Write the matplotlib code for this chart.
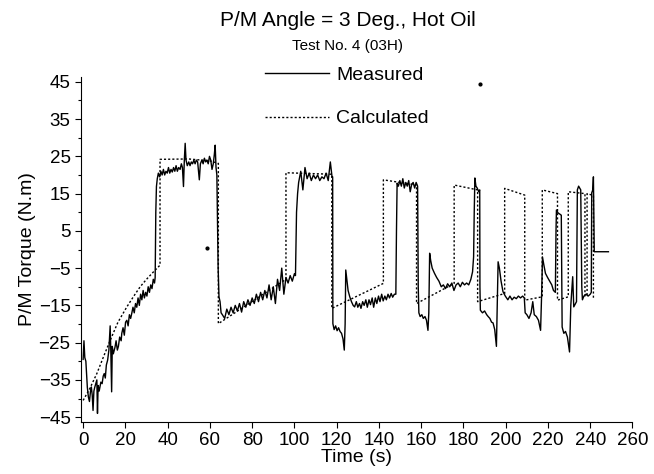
import numpy as np
import matplotlib
matplotlib.use('Agg')
import matplotlib.pyplot as plt
from matplotlib.ticker import MultipleLocator

plt.rcParams['font.family'] = ['Liberation Sans', 'DejaVu Sans']

# measured torque trace (time s, torque N.m)
meas_t = [0.0, 0.4, 0.8, 1.3, 2.0, 2.5, 3.0, 3.5, 3.9, 4.3, 4.7, 5.1, 5.5, 6.0, 6.5, 6.8, 7.1, 7.6,
          8.4, 9.0, 9.5, 10.0, 10.5, 11.0, 11.6, 12.2, 12.8, 13.1, 13.5, 13.8, 14.3, 15.1, 15.6,
          16.2, 16.7, 17.3, 18.0, 18.3, 18.9, 19.5, 20.1, 20.7, 21.3, 21.9, 22.5, 23.0, 23.6,
          24.2, 24.8, 25.4, 26.0, 26.6, 27.2, 27.8, 28.4, 29.0, 29.6, 30.2, 30.8, 31.4, 32.0,
          32.6, 33.2, 33.8, 34.1, 34.4, 34.7, 35.1, 35.6, 36.2, 36.8, 37.4, 38.0, 38.6, 39.2,
          39.8, 40.4, 41.0, 41.6, 42.2, 42.8, 43.4, 44.0, 44.6, 45.2, 45.9, 46.5, 47.0, 47.5,
          47.9, 48.3, 48.7, 49.3, 50.0, 50.6, 51.2, 51.8, 52.4, 53.0, 53.6, 54.2, 55.0, 55.5,
          56.2, 56.8, 57.4, 58.0, 58.6, 59.2, 59.8, 60.4, 61.0, 61.6, 62.1, 62.5, 62.9, 63.3,
          63.6, 63.9, 64.3, 64.8, 65.3, 65.9, 67, 68, 69, 70, 71, 72, 73, 74, 75, 76, 77, 78,
          79, 80, 81, 82, 83, 84, 85, 86, 87, 88, 89, 90, 91, 92, 93, 94, 95, 96, 97, 98, 99,
          100, 100.5, 101, 101.5, 102, 103, 104, 105, 106, 107, 108, 109, 110, 111, 112, 113,
          114, 115, 116, 117, 117.8,
          118.1, 118.2, 118.8, 119.5, 120.2, 120.9, 121.6, 122.3, 123.0, 123.6, 124.0, 124.3,
          124.8, 125.4, 126.2, 127.0, 127.8, 128.5, 129.3, 130.0, 130.8, 131.5, 132.3, 133.0,
          133.8, 134.5, 135.3, 136.0, 136.8, 137.5, 138.3, 139.0, 139.8, 140.5, 141.3, 142.0,
          142.8, 143.5, 144.3, 145.0, 145.8, 146.5, 147.3, 148.0, 148.3, 148.6, 149.2, 149.9,
          150.6, 151.3, 152.0, 152.7, 153.4, 154.1, 154.8, 155.5, 156.2, 156.9, 157.6, 158.3,
          158.6, 158.9, 159.5, 160.3, 161.0, 161.8, 162.5, 163.2, 163.6, 164.0, 164.5, 165.2,
          166.3, 167.3, 168.4, 169.5, 170.5, 171.5, 172.5, 173.5, 174.5, 175.5, 176.5, 177.5,
          178.5, 179.5, 180.5, 181.5, 182.5, 183.5, 184.3, 184.8, 185.1, 185.4, 185.9, 186.5,
          187.2, 187.7, 187.8, 188.0, 189.0, 190.0, 191.0, 191.7, 192.5, 193.3, 194.0, 194.8,
          195.6, 196.0, 196.4, 197.0, 197.8, 198.7, 199.8, 201.0, 202.0, 203.0, 204.0, 205.0,
          206.0, 207.0, 208.0, 208.8, 209.2, 210.0, 211.0, 212.0, 212.8, 213.5, 214.5, 215.5,
          216.5, 217.0, 217.4, 218.0, 218.8, 219.8, 220.8, 221.8, 222.6, 223.5, 223.8, 224.0,
          224.8, 225.6, 226.3, 226.5, 226.7, 227.5, 228.3, 229.2, 230.2, 230.8, 231.7, 232.2,
          233.5, 233.9, 234.5, 235.5, 236.0, 236.3, 237.0, 238.0, 239.0, 240.0, 240.5, 240.7,
          241.2, 241.5, 241.9, 248.6]
meas_v = [-29.5, -24.5, -29, -30, -37, -39.6, -40.8, -38, -36.9, -39, -43.2, -38, -37, -36, -35, -44, -36.5, -38,
          -35.6, -36, -34, -33.3, -34.5, -31, -29.7, -27, -20.5, -27, -38.2, -26, -28, -26.2, -24.5,
          -27, -26, -23.5, -24.5, -22.5, -21, -23, -19.5, -19, -20.5, -17.5, -18.5, -17.2, -15.5,
          -17, -14.5, -15.5, -13, -15, -12, -13.5, -11, -13, -11.5, -12.5, -10, -11.5, -9.5,
          -10.5, -8, -9, -7.5, 10, 16.9, 19, 20.5, 19.5, 21, 20, 21.5, 20, 21,
          20.5, 22, 20.5, 21.5, 20.8, 22, 21, 22.5, 21, 22, 21.5, 23, 22, 16.9,
          24, 28.5, 24, 22.5, 23.5, 22.5, 23.5, 23, 24, 23, 24, 23.5, 18.7, 23,
          24, 23, 24.5, 23.5, 24, 23, 25, 24, 21.5, 23, 25.5, 28, 22, 20,
          8, -5, -12.7, -14, -17, -17.5, -18.5, -16, -17.5, -15.5, -17, -15, -16.5, -14.5, -16.8, -14, -15.5, -13.5,
          -15, -13, -14.5, -12, -14, -11.5, -13.5, -11, -13, -9.5, -13.5, -10, -14.5, -8, -11, -5, -12, -7.5, -9, -7, -8.5,
          -6.5, -7, 10, 15, 18, 21, 16, 22, 19, 20.5, 18.5, 20, 19, 20, 18.5, 19.5,
          19, 20.5, 18.5, 23.5, 19.5,
          19.5, -19.9, -21.5, -20.5, -21.8, -21, -22, -22.5, -24, -27, -20, -5.5,
          -8, -11, -12.7, -14, -15, -15.4, -14, -15.5, -14.5, -15.8, -14, -15,
          -13.5, -15.5, -13.5, -14.8, -13, -15.5, -13, -14.5, -12.5, -14, -12, -13.8,
          -12.5, -13.5, -12, -13, -11.8, -12.8, -12, -12, 5, 17.8, 17, 18.5,
          17, 19, 16.5, 18, 17, 18.5, 15.5, 17.5, 18, 16.5, 18, 17,
          -10, -17, -18, -17.5, -18.5, -18, -19, -21.7, -17, -1, -3, -5,
          -6.4, -7.5, -8.5, -10, -9.5, -10.5, -9.2, -10, -9, -11, -9.5, -9,
          -10, -8.8, -9.5, -9, -9.5, -8, -6, -2, 10, 19.2, 17, 16.5,
          15.5, 16, -10, -16.3, -17, -16.5, -17.5, -18, -18.5, -19.5, -19.7, -21.5,
          -26, -15, -3.3, -5, -8.5, -11.3, -12.5, -13.5, -12.5, -13.5, -12.8, -13.2,
          -12.5, -13, -12.5, -13, -17, -17.5, -18.5, -17, -14, -17.5, -18, -19,
          -21.7, -12, -2, -4, -6.4, -7.5, -8.5, -9.5, -11, -11.5, 5, 10.6,
          9.8, 9.5, 9.2, -5, -20.8, -22.5, -22, -23.5, -27.5, -15, -7.3, -15.4,
          -14, 16, 17, 16, -10, -13.5, -12.5, -12, -12.5, -12, -11.5, 15.2,
          16, 19.5, -0.6, -0.6]

# calculated torque (dotted)
calc_t = [0, 3, 6.5, 9.5, 12.8, 16.5, 20.7, 24, 27, 30, 33.3, 36.4, 36.4, 50, 60, 64, 64, 96, 96,
          117.7, 117.7, 142.1, 142.1, 157.8, 157.8, 175.6, 175.6, 186.7, 186.7, 199.5, 199.5,
          209, 209, 217.3, 217.3, 224.5, 224.5, 229.6, 229.6, 237.5, 237.5, 238.5, 238.5,
          241.5, 241.5]
calc_v = [-40.5, -37.5, -33.3, -29, -24.4, -19.5, -15.4, -12.5, -10, -8, -6, -4.2, 24.2, 24.3, 23.8, 23.1, -19.9, -8, 20.6,
          20.2, -15.8, -9.1, 18.7, 17.3, -14.5, -9.1, 17.3, 16, -14, -11.8, 16.4,
          14.6, -13.6, -12.7, 16, 15, -13.6, -12.7, 15.5, 15, -12.5, -12.3, 15,
          14.5, -13.5]

# stray specks on the scanned plot
speck_t = [58.5, 188]
speck_v = [0.3, 44.3]

fig = plt.figure(figsize=(6.54, 4.74), dpi=100)
ax = fig.add_axes([81 / 654, 52 / 474, 551.5 / 654, 345 / 474])

ax.plot(meas_t, meas_v, color='black', lw=1.0, label='Measured')
ax.plot(calc_t, calc_v, color='black', lw=1.0, ls=(0, (1.5, 1.5)), label='Calculated')
ax.plot(speck_t, speck_v, ls='none', marker='o', ms=2, color='black')

ax.set_xlim(-1, 260)
ax.set_ylim(-46.3, 46.3)
ax.set_xticks(np.arange(0, 261, 20))
ax.set_yticks(np.arange(-45, 46, 10))
ax.yaxis.set_minor_locator(MultipleLocator(5))
ax.tick_params(axis='both', which='major', labelsize=13.5, length=4, width=0.8, direction='out')
ax.tick_params(axis='y', which='minor', length=2.5, width=0.8)
ax.spines['top'].set_visible(False)
ax.spines['right'].set_visible(False)

ax.set_xlabel('Time (s)', fontsize=14, labelpad=0)
ax.set_ylabel('P/M Torque (N.m)', fontsize=14, labelpad=2)

fig.text(0.532, 1 - 21 / 474, 'P/M Angle = 3 Deg., Hot Oil', ha='center', va='center', fontsize=15)
fig.text(0.532, 1 - 46 / 474, 'Test No. 4 (03H)', ha='center', va='center', fontsize=11)

ax.legend(loc='upper left', bbox_to_anchor=(265 / 654, 1 - 66 / 474), bbox_transform=fig.transFigure,
          frameon=False, fontsize=14, handlelength=3.3, handletextpad=0.35, labelspacing=1.35,
          borderpad=0, borderaxespad=0)

fig.savefig('out.png', dpi=100)
